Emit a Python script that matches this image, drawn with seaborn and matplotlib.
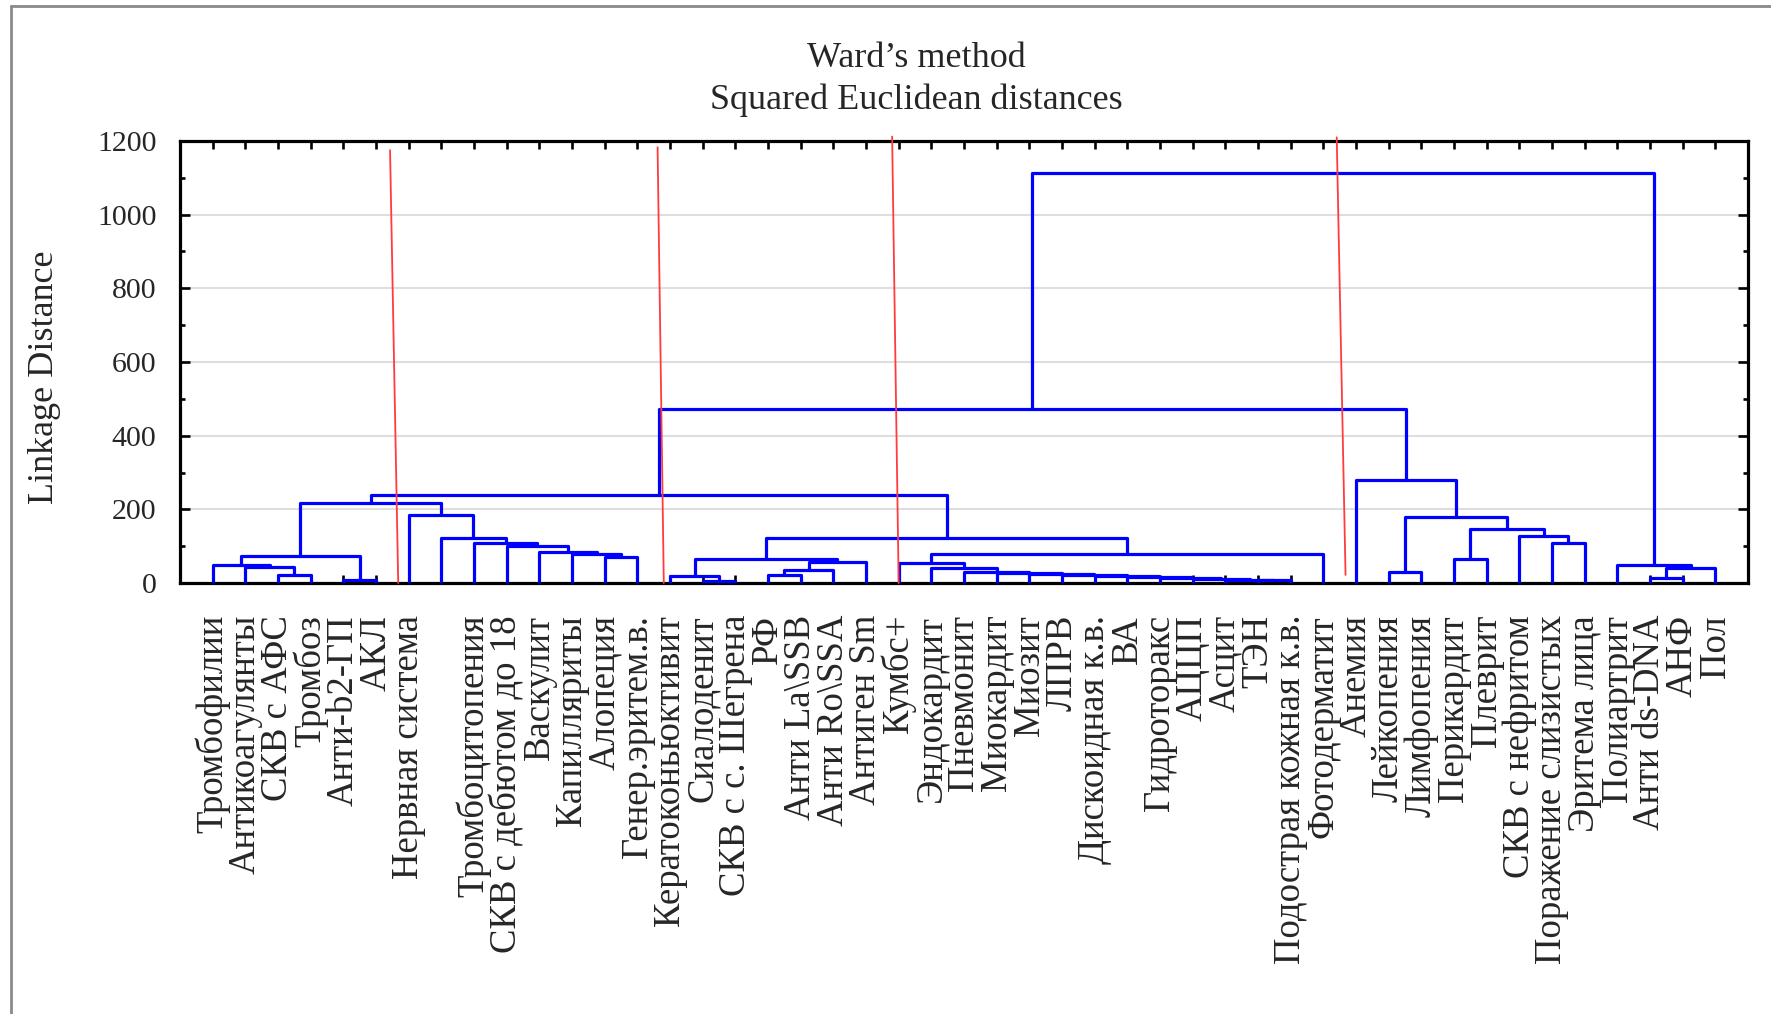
import numpy as np
import pandas as pd
import matplotlib
matplotlib.use("Agg")
import matplotlib.pyplot as plt
from matplotlib.lines import Line2D
from matplotlib.ticker import MultipleLocator
import seaborn as sns

# ---------------- data ----------------
leaf_labels = [
    "Тромбофилии", "Антикоагулянты", "СКВ с АФС", "Тромбоз", "Анти-b2-ГП", "АКЛ",
    "Нервная система", "",
    "Тромбоцитопения", "СКВ с дебютом до 18", "Васкулит", "Капилляриты", "Алопеция",
    "Генер.эритем.в.", "Кератоконьюктивит", "Сиалоденит", "СКВ с с. Шегрена", "РФ",
    "Анти La\\SSB", "Анти Ro\\SSA", "Антиген Sm", "Кумбс+", "Эндокардит", "Пневмонит",
    "Миокардит", "Миозит", "ЛПРВ", "Дискоидная к.в.", "ВА", "Гидроторакс", "АЦЦП",
    "Асцит", "ТЭН", "Подострая кожная к.в.", "Фотодерматит", "Анемия", "Лейкопения",
    "Лимфопения", "Перикардит", "Плеврит", "СКВ с нефритом", "Поражение слизистых",
    "Эритема лица", "Полиартрит", "Анти ds-DNA", "АНФ", "Пол",
]

# linkage table: leaves are 0..46, merge k creates node 47+k
merge_left = [2, 1, 0, 4, 49, 12, 11, 10, 9, 8, 7, 6, 51,
              15, 14, 17, 62, 63, 61,
              32, 31, 30, 29, 28, 27, 26, 25, 24, 23, 22, 21, 77,
              65, 59,
              36, 38, 41, 40, 82, 81, 35, 80,
              44, 89, 43, 88]
merge_right = [3, 47, 48, 5, 50, 13, 52, 53, 54, 55, 56, 57, 58,
               16, 60, 18, 19, 20, 64,
               33, 66, 67, 68, 69, 70, 71, 72, 73, 74, 75, 76, 34,
               78, 79,
               37, 39, 42, 83, 84, 85, 86, 87,
               45, 46, 90, 91]
merge_height = [22, 43, 49, 9, 72, 71, 80, 85, 100, 108, 121, 185, 217,
                6, 19, 22, 34, 57, 64,
                8, 9.5, 11, 13.5, 16, 19, 22.5, 25, 27, 31, 40, 53, 80,
                122, 240,
                31, 64, 109, 127, 146, 180, 279, 473,
                13, 42, 49, 1113]

y_ticks = [0, 200, 400, 600, 800, 1000, 1200]

# hand-drawn red cut lines (top point, bottom point)
cut_top_x = [6.43, 14.62, 21.80, 35.41]
cut_top_y = [1175, 1183, 1212, 1210]
cut_bot_x = [6.68, 14.81, 22.00, 35.68]
cut_bot_y = [0, 0, 0, 22]

# ---------------- build dendrogram segments ----------------
n = len(leaf_labels)
node_x = [float(i + 1) for i in range(n)]
node_h = [0.0] * n
rows = []
for k, (l, r, h) in enumerate(zip(merge_left, merge_right, merge_height)):
    xl, xr = node_x[l], node_x[r]
    yl, yr = node_h[l], node_h[r]
    for j, (px, py) in enumerate([(xl, yl), (xl, h), (xr, h), (xr, yr)]):
        rows.append({"seg": k, "order": j, "x": px, "y": py})
    node_x.append((xl + xr) / 2.0)
    node_h.append(float(h))
dend = pd.DataFrame(rows)

cut_rows = []
for k in range(len(cut_top_x)):
    cut_rows.append({"seg": k, "x": cut_top_x[k], "y": cut_top_y[k]})
    cut_rows.append({"seg": k, "x": cut_bot_x[k], "y": cut_bot_y[k]})
cuts = pd.DataFrame(cut_rows)

# ---------------- style ----------------
sns.set_theme(style="white")
serif = ["Liberation Serif", "DejaVu Serif"]
plt.rcParams["font.family"] = serif
plt.rcParams["axes.edgecolor"] = "black"

W, H = 1771, 1014
fig = plt.figure(figsize=(W / 100, H / 100), dpi=100)
fig.patch.set_facecolor("white")

ax_l, ax_r, ax_t, ax_b = 180, 1748, 141, 583
ax = fig.add_axes([ax_l / W, 1 - ax_b / H, (ax_r - ax_l) / W, (ax_b - ax_t) / H])
ax.set_facecolor("white")

sns.lineplot(data=dend, x="x", y="y", units="seg", estimator=None, sort=False,
             color="#0000ff", linewidth=2.3, ax=ax, legend=False, zorder=3)
sns.lineplot(data=cuts, x="x", y="y", units="seg", estimator=None, sort=False,
             color="#ff3c3c", linewidth=1.3, ax=ax, legend=False, zorder=4,
             clip_on=False)

ax.set_xlim(0, n + 1)
ax.set_ylim(0, 1200)

ax.set_xticks(range(1, n + 1))
ax.set_xticklabels(leaf_labels, rotation=90, fontsize=26.5, family=serif)
ax.set_yticks(y_ticks)
ax.set_yticklabels([str(v) for v in y_ticks], fontsize=21.5, family=serif)
ax.yaxis.set_minor_locator(MultipleLocator(100))

ax.tick_params(axis="x", which="major", direction="in", length=5.5, width=1.9,
               top=True, bottom=True, color="black", pad=23)
ax.tick_params(axis="y", which="major", direction="in", length=7, width=1.9,
               left=True, right=True, color="black", pad=17)
ax.tick_params(axis="y", which="minor", direction="in", length=3.5, width=1.9,
               left=True, right=True, color="black")

for sp in ax.spines.values():
    sp.set_visible(True)
    sp.set_color("black")
    sp.set_linewidth(2.3)

ax.grid(axis="y", which="major", color="#dedede", linewidth=1.5)
ax.grid(axis="x", visible=False)
ax.set_axisbelow(True)

ax.set_xlabel("")
ax.set_ylabel("Linkage Distance", fontsize=26, family=serif)
ax.yaxis.set_label_coords(-0.076, 0.465)

fig.text(916 / W, 1 - 79.5 / H, "Ward\u2019s method\nSquared Euclidean distances",
         ha="center", va="center", fontsize=26, family=serif, linespacing=1.36)

# outer gray frame of the original screenshot
fig.add_artist(Line2D([11 / W, 11 / W], [0, 1 - 6 / H], transform=fig.transFigure,
                      color="#8a8a8a", linewidth=2))
fig.add_artist(Line2D([11 / W, 1], [1 - 6 / H, 1 - 6 / H], transform=fig.transFigure,
                      color="#8a8a8a", linewidth=2))

fig.savefig("out.png", dpi=100)
